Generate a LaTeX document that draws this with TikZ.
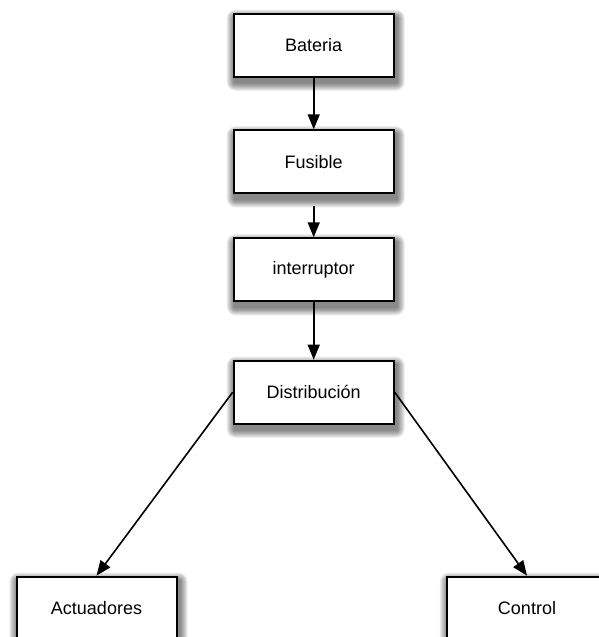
\documentclass[tikz,border=0pt]{standalone}
\usepackage{fontspec}
\setmainfont{Liberation Sans}
\usetikzlibrary{arrows.meta,backgrounds}
% soft drop shadow built from stacked translucent rectangles
\newcommand\softshadow[1]{%
  \foreach \r in {1,...,9} {%
    \fill[black, fill opacity=0.065, rounded corners=\r pt]
      ([shift={(2-\r*0.9,5-\r*0.9)}]#1.north west) rectangle
      ([shift={(2+\r*0.9,5+\r*0.9)}]#1.south east);
  }}
\begin{document}
\begin{tikzpicture}[x=1pt,y=-1pt,
  block/.style={draw=black, line width=2pt, fill=white,
    minimum width=160pt, minimum height=63pt, inner sep=0pt,
    font=\fontsize{18}{21}\selectfont},
  link/.style={line width=1.6pt, -{Triangle[length=15pt,width=12pt]}}]
\useasboundingbox (0,0) rectangle (599,637);
\clip (0,0) rectangle (599,637);

% power chain
\node[block] (bat)  at (313.7,45.2)  {Bateria};
\node[block] (fus)  at (313.7,161.8) {Fusible};
\node[block] (intr) at (313.7,269.8) {interruptor};
\node[block] (dist) at (313.7,392.2) {Distribución};

% loads
\node[block] (act)  at (96.5,608.2)  {Actuadores};
\node[block] (ctrl) at (527,608.2)   {Control};

% shadows behind the boxes
\begin{scope}[on background layer]
  \softshadow{bat}
  \softshadow{fus}
  \softshadow{intr}
  \softshadow{dist}
  \softshadow{act}
  \softshadow{ctrl}
\end{scope}

% connectors
\draw[link] (bat) -- (fus);
\draw[link, shorten <=12pt] (fus) -- (intr);
\draw[link] (intr) -- (dist);
\draw[link] (dist.west) -- (act.north);
\draw[link] (dist.east) -- (ctrl.north);
\end{tikzpicture}
\end{document}
